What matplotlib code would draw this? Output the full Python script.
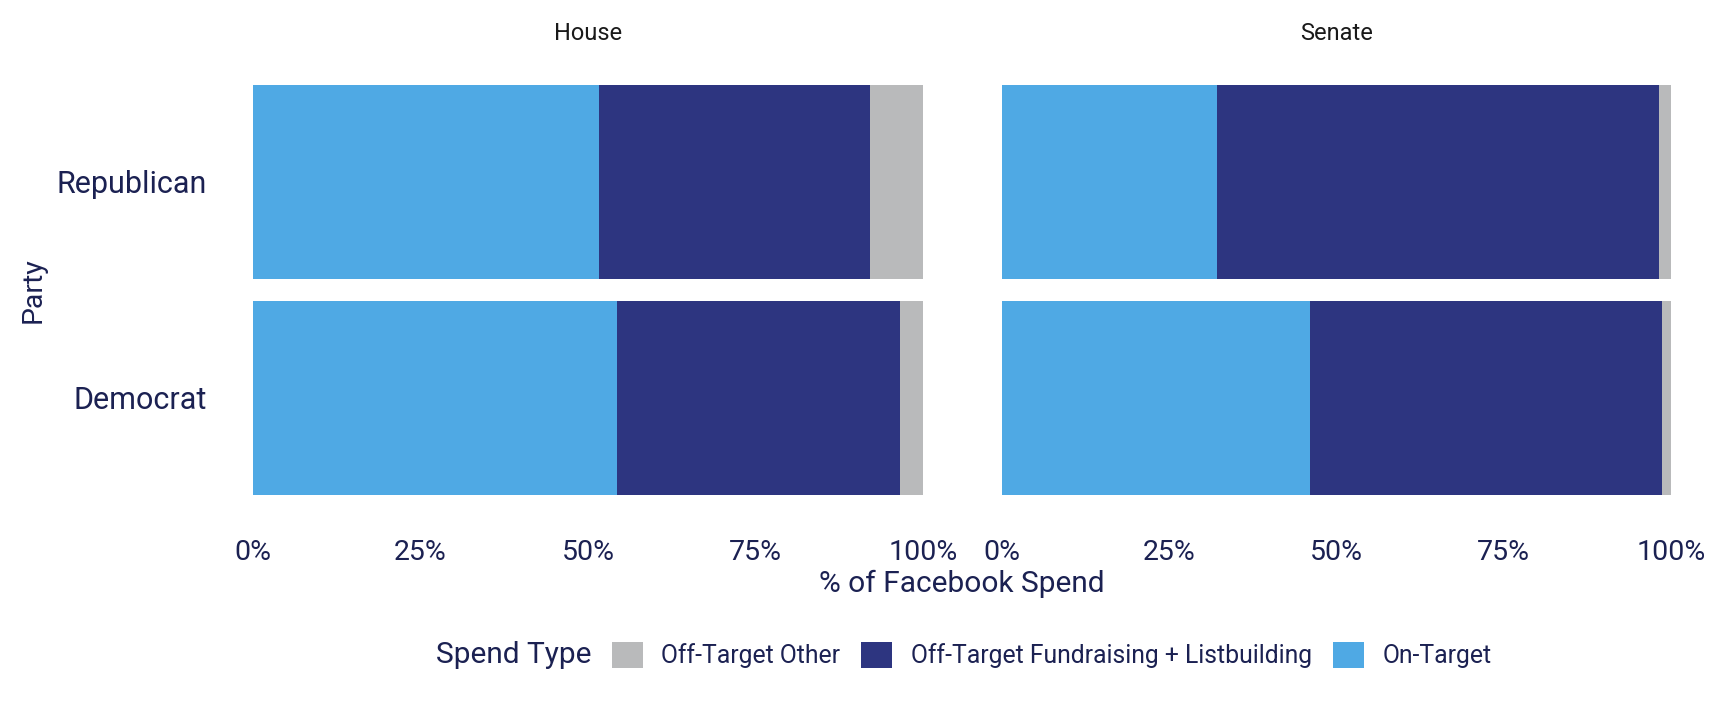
import matplotlib
matplotlib.use("Agg")
import matplotlib.pyplot as plt
from matplotlib.patches import Patch
import numpy as np

plt.rcParams['font.family'] = ['Roboto', 'DejaVu Sans']

chambers = ["House", "Senate"]
parties = ["Republican", "Democrat"]
spend_types = ["Off-Target Other", "Off-Target Fundraising + Listbuilding", "On-Target"]
colors = {"Off-Target Other": "#B9BABB",
          "Off-Target Fundraising + Listbuilding": "#2D3580",
          "On-Target": "#4FA9E4"}

# shares (fractions) per chamber, order: Republican, Democrat
on_target = {"House": [0.517, 0.543], "Senate": [0.321, 0.461]}
fundraising = {"House": [0.404, 0.423], "Senate": [0.661, 0.525]}
other = {"House": [0.079, 0.034], "Senate": [0.018, 0.014]}

xticks = [0, 0.25, 0.5, 0.75, 1.0]
xticklabels = ["0%", "25%", "50%", "75%", "100%"]

TXT = "#1B2152"

fig = plt.figure(figsize=(17.30, 7.02), dpi=100)
W, H = 1730, 702
top_px, bot_px = 52.6, 527
panels = {"House": (253, 923), "Senate": (1002, 1671)}

for ci, ch in enumerate(chambers):
    l, r = panels[ch]
    ax = fig.add_axes([l / W, 1 - bot_px / H, (r - l) / W, (bot_px - top_px) / H])
    ypos = np.arange(len(parties))[::-1] + 1  # Republican top
    left = np.zeros(len(parties))
    for st, vals in [("On-Target", on_target[ch]),
                     ("Off-Target Fundraising + Listbuilding", fundraising[ch]),
                     ("Off-Target Other", other[ch])]:
        v = np.array(vals)
        ax.barh(ypos, v, left=left, height=0.9, color=colors[st], edgecolor='none')
        left = left + v
    ax.set_xlim(0, 1)
    ax.set_ylim(0.4, 2.6)
    for s in ax.spines.values():
        s.set_visible(False)
    ax.set_xticks(xticks)
    ax.set_xticklabels(xticklabels, fontsize=20.5, color=TXT)
    ax.tick_params(axis='x', length=0, pad=9)
    if ci == 0:
        ax.set_yticks(ypos)
        ax.set_yticklabels(parties, fontsize=22, color=TXT)
        ax.tick_params(axis='y', length=0, pad=33)
    else:
        ax.set_yticks([])
    ax.text(0.5, 1 + 19 / (bot_px - top_px), ch, transform=ax.transAxes,
            ha='center', va='center', fontsize=17, color="#1A1A1A")

fig.text(962 / W, 1 - 584 / H, "% of Facebook Spend", ha='center', va='center',
         fontsize=21.5, color=TXT)
fig.text(33 / W, 1 - 290 / H, "Party", ha='center', va='center', rotation=90,
         fontsize=20.5, color=TXT)

handles = [Patch(facecolor=colors[s], edgecolor='none') for s in spend_types]
fig.text(436 / W, 1 - 655 / H, "Spend Type", ha='left', va='center', fontsize=21.5, color=TXT)
leg = fig.legend(handles, spend_types, loc='center left', bbox_to_anchor=(612 / W, 1 - 655 / H),
                 ncol=3, frameon=False, fontsize=17.8, handlelength=1.25, handleheight=1.3,
                 handletextpad=0.75, columnspacing=0.85, borderaxespad=0, borderpad=0)
for t in leg.get_texts():
    t.set_color(TXT)

fig.savefig("out.png", dpi=100, facecolor='white')
